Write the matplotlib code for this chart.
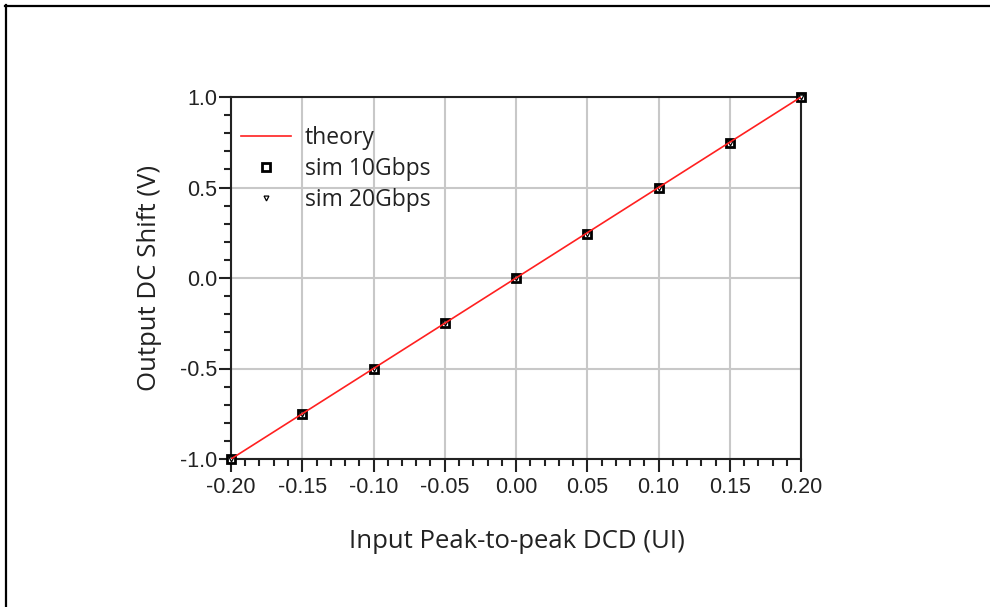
import matplotlib
matplotlib.use("Agg")
import matplotlib.pyplot as plt
from matplotlib.lines import Line2D
from matplotlib.ticker import MultipleLocator, FormatStrFormatter

# Data
x_sim = [-0.20, -0.15, -0.10, -0.05, 0.00, 0.05, 0.10, 0.15, 0.20]
y_sim10 = [-1.00, -0.75, -0.50, -0.25, 0.00, 0.245, 0.50, 0.745, 1.00]
y_sim20 = [-1.00, -0.75, -0.50, -0.25, 0.00, 0.245, 0.50, 0.745, 1.00]
x_theory = [-0.20, 0.20]
y_theory = [-1.00, 1.00]
xticks = [-0.20, -0.15, -0.10, -0.05, 0.00, 0.05, 0.10, 0.15, 0.20]
yticks = [-1.0, -0.5, 0.0, 0.5, 1.0]

W, H = 990, 607
fig = plt.figure(figsize=(W / 100, H / 100), dpi=100)
fig.patch.set_facecolor("white")

# outer frame lines (top and left)
fig.add_artist(Line2D([5 / W, 1.0], [1 - 5.5 / H, 1 - 5.5 / H], color="black", lw=1.6, transform=fig.transFigure))
fig.add_artist(Line2D([5.5 / W, 5.5 / W], [0.0, 1 - 5 / H], color="black", lw=1.6, transform=fig.transFigure))

left, right, top, bottom = 231, 801, 97, 459
ax = fig.add_axes([left / W, 1 - bottom / H, (right - left) / W, (bottom - top) / H])

ax.plot(x_theory, y_theory, color="#ff2020", lw=1.2, label="theory", zorder=4)
ax.plot(x_sim, y_sim10, linestyle="none", marker="s", ms=5.5, mfc="white", mec="black", mew=2.0,
        label="sim 10Gbps", zorder=3, clip_on=False)
ax.plot(x_sim, y_sim20, linestyle="none", marker="v", ms=3.5, mfc="white", mec="black", mew=0.9,
        label="sim 20Gbps", zorder=3.5, clip_on=False)

ax.set_xlim(-0.20, 0.20)
ax.set_ylim(-1.0, 1.0)
ax.set_xticks(xticks)
ax.set_yticks(yticks)
ax.xaxis.set_major_formatter(FormatStrFormatter("%.2f"))
ax.yaxis.set_major_formatter(FormatStrFormatter("%.1f"))
ax.xaxis.set_minor_locator(MultipleLocator(0.01))
ax.yaxis.set_minor_locator(MultipleLocator(0.1))

ax.grid(True, which="major", color="#c8c8c8", lw=1.5)
ax.set_axisbelow(True)
for s in ax.spines.values():
    s.set_color("#222222")
    s.set_linewidth(1.5)

ax.tick_params(axis="both", which="major", direction="out", length=9, width=1.5, color="#222222",
               labelcolor="#222222")
ax.tick_params(axis="both", which="minor", direction="out", length=5, width=1.5, color="#222222")
ax.tick_params(axis="x", which="major", pad=4)
ax.tick_params(axis="y", which="major", pad=1)
for lab in ax.get_xticklabels() + ax.get_yticklabels():
    lab.set_fontfamily("Liberation Sans")
    lab.set_fontsize(15.5)

label_font = dict(family="Open Sans", size=18.5, color="#222222")
ax.set_xlabel("Input Peak-to-peak DCD (UI)", **label_font)
ax.set_ylabel("Output DC Shift (V)", **label_font)
ax.xaxis.set_label_coords((517 - left) / (right - left), -(541 - bottom) / (bottom - top), transform=ax.transAxes)
ax.yaxis.set_label_coords(-(left - 150) / (right - left), (bottom - 278) / (bottom - top), transform=ax.transAxes)
ax.xaxis.label.set_va("center")
ax.yaxis.label.set_va("center")

leg = ax.legend(loc="upper left", bbox_to_anchor=(-0.003, 0.952), frameon=False,
                prop=dict(family="Open Sans", size=16.5), handlelength=2.2, labelspacing=0.3,
                handletextpad=0.6, borderaxespad=0.3, borderpad=0.2)
for t in leg.get_texts():
    t.set_color("#222222")

fig.savefig("out.png", dpi=100, facecolor="white")
